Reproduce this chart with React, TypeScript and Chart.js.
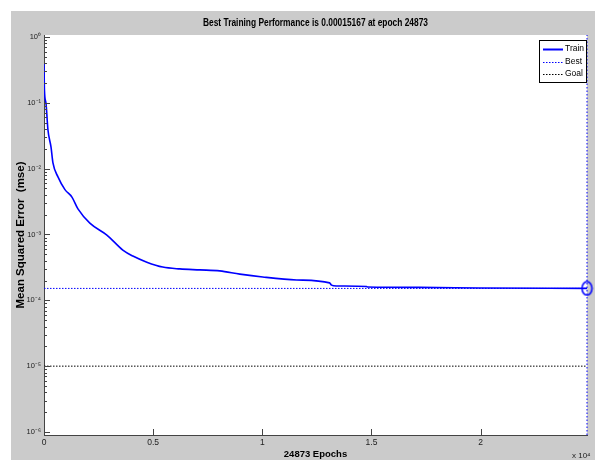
import React, { useEffect, useRef } from "react";
import { Chart, registerables } from "chart.js";
Chart.register(...registerables);

const epochs = [0, 20, 90, 180, 320, 410, 640, 960, 1280, 1555, 2100, 2880, 3610, 4070, 4710, 5440, 6220, 7140, 8050, 8970, 10020, 11570, 13080, 13170, 13400, 14780, 14820, 17200, 19950, 24873];
const trainMse = [0.4, 0.157, 0.099, 0.039, 0.0214, 0.0122, 0.0075, 0.0048, 0.0037, 0.00245, 0.00149, 0.00098, 5.8e-4, 4.7e-4, 3.8e-4, 3.2e-4, 3.0e-4, 2.9e-4, 2.8e-4, 2.5e-4, 2.26e-4, 2.04e-4, 1.84e-4, 1.7e-4, 1.65e-4, 1.62e-4, 1.59e-4, 1.57e-4, 1.54e-4, 1.5167e-4];
const bestEpoch = 24873;
const bestPerf = 1.5167e-4;
const goalPerf = 1e-5;
const xTicks = [0, 5000, 10000, 15000, 20000];
const yDecades = [1e-6, 1e-5, 1e-4, 1e-3, 1e-2, 1e-1, 1];
const yDecadeLabels = ["10⁻⁶", "10⁻⁵", "10⁻⁴", "10⁻³", "10⁻²", "10⁻¹", "10⁰"];
const legendLabels = ["Train", "Best", "Goal"];
const titleText = "Best Training Performance is 0.00015167 at epoch 24873";
const yMin = 9.0e-7;
const yMax = 1.072;

const FONT = '"Liberation Sans", Arial, sans-serif';

function makeEllipse(): HTMLCanvasElement {
  const c = document.createElement("canvas");
  c.width = 13;
  c.height = 16;
  const g = c.getContext("2d")!;
  g.strokeStyle = "#0000ff";
  g.lineWidth = 1.5;
  g.beginPath();
  g.ellipse(6.5, 8, 5, 6.8, 0, 0, Math.PI * 2);
  g.stroke();
  return c;
}

const bgPlugin = {
  id: "bgPanel",
  beforeDraw(chart: any) {
    const { ctx, chartArea: a } = chart;
    ctx.save();
    ctx.fillStyle = "#cbcbcb";
    ctx.fillRect(11, 11, chart.width - 11, chart.height - 11);
    ctx.fillStyle = "#ffffff";
    ctx.fillRect(a.left, a.top, a.right - a.left, a.bottom - a.top);
    ctx.restore();
  },
};

const decorPlugin = {
  id: "decor",
  afterDraw(chart: any) {
    const { ctx, chartArea: a, scales } = chart;
    const ys = scales.y;
    const xs = scales.x;
    ctx.save();
    ctx.strokeStyle = "#444";
    ctx.lineWidth = 1;
    ctx.setLineDash([]);
    ctx.beginPath();
    for (let e = -6; e <= 0; e++) {
      for (let m = 1; m <= 9; m++) {
        const v = m * Math.pow(10, e);
        if (v > 1.0001) continue;
        const py = Math.round(ys.getPixelForValue(v)) + 0.5;
        const len = m === 1 ? 6 : 3;
        ctx.moveTo(a.left, py);
        ctx.lineTo(a.left + len, py);
      }
    }
    xTicks.forEach((v) => {
      const px = Math.round(xs.getPixelForValue(v)) + 0.5;
      ctx.moveTo(px, a.bottom);
      ctx.lineTo(px, a.bottom - 6);
    });
    ctx.stroke();

    // title (condensed, centred over the axes)
    ctx.save();
    ctx.font = `bold 10.5px ${FONT}`;
    const tw = ctx.measureText(titleText).width;
    ctx.translate((a.left + a.right) / 2, 23);
    ctx.scale(225 / tw, 1);
    ctx.fillStyle = "#000";
    ctx.textAlign = "center";
    ctx.textBaseline = "middle";
    ctx.fillText(titleText, 0, 0);
    ctx.restore();

    // exponent label
    ctx.fillStyle = "#222";
    ctx.font = `8px ${FONT}`;
    ctx.textAlign = "left";
    ctx.textBaseline = "middle";
    ctx.fillText("x 10⁴", 572, 456);

    // legend
    const bx = 539, by = 40, bw = 47, bh = 42;
    ctx.fillStyle = "#ffffff";
    ctx.fillRect(bx, by, bw, bh);
    ctx.strokeStyle = "#000";
    ctx.lineWidth = 1;
    ctx.strokeRect(bx + 0.5, by + 0.5, bw, bh);
    const styles = [
      { color: "#0000ff", dash: [] as number[], width: 2 },
      { color: "#0000ff", dash: [1.5, 1.5], width: 1 },
      { color: "#000000", dash: [1.5, 1.5], width: 1 },
    ];
    legendLabels.forEach((lab, i) => {
      const ly = by + 9 + i * 12.5;
      const s = styles[i];
      ctx.beginPath();
      ctx.strokeStyle = s.color;
      ctx.lineWidth = s.width;
      ctx.setLineDash(s.dash);
      ctx.moveTo(bx + 4, Math.round(ly) + 0.5);
      ctx.lineTo(bx + 24, Math.round(ly) + 0.5);
      ctx.stroke();
      ctx.setLineDash([]);
      ctx.fillStyle = "#000";
      ctx.font = `8.5px ${FONT}`;
      ctx.textAlign = "left";
      ctx.textBaseline = "middle";
      ctx.fillText(lab, bx + 26, ly);
    });
    ctx.restore();
  },
};

export default function App() {
  const ref = useRef<HTMLCanvasElement | null>(null);
  useEffect(() => {
    if (!ref.current) return;
    const trainData = epochs.map((e, i) => ({ x: e, y: trainMse[i] }));
    const chart = new Chart(ref.current, {
      type: "line",
      data: {
        datasets: [
          {
            label: "Train",
            data: trainData,
            borderColor: "#0000ff",
            borderWidth: 1.6,
            pointRadius: 0,
            cubicInterpolationMode: "monotone",
          },
          {
            label: "Best",
            data: [
              { x: 0, y: bestPerf },
              { x: bestEpoch, y: bestPerf },
            ],
            borderColor: "#0000ff",
            borderWidth: 1,
            borderDash: [1.5, 1.5],
            pointRadius: 0,
          },
          {
            label: "BestV",
            data: [
              { x: bestEpoch, y: yMin },
              { x: bestEpoch, y: yMax },
            ],
            borderColor: "#0000ff",
            borderWidth: 1,
            borderDash: [1.5, 2],
            pointRadius: 0,
            clip: false as any,
          },
          {
            label: "Goal",
            data: [
              { x: 0, y: goalPerf },
              { x: bestEpoch, y: goalPerf },
            ],
            borderColor: "#000000",
            borderWidth: 1,
            borderDash: [1.5, 1.5],
            pointRadius: 0,
          },
          {
            label: "BestPoint",
            data: [{ x: bestEpoch, y: bestPerf }],
            borderColor: "#0000ff",
            backgroundColor: "rgba(0,0,0,0)",
            pointStyle: makeEllipse(),
            pointRadius: 6,
            showLine: false,
            clip: false as any,
          },
        ],
      },
      options: {
        animation: false,
        responsive: false,
        events: [],
        layout: { padding: { left: 11, top: 35, right: 8, bottom: 0 } },
        plugins: {
          legend: { display: false },
          tooltip: { enabled: false },
          title: { display: false },
        },
        scales: {
          x: {
            type: "linear",
            min: 0,
            max: bestEpoch,
            grid: { display: false, drawTicks: false },
            border: { display: true, color: "#444", width: 1 },
            afterBuildTicks: (s: any) => {
              s.ticks = xTicks.map((v) => ({ value: v }));
            },
            afterFit: (s: any) => {
              s.height = 25;
            },
            ticks: {
              autoSkip: false,
              maxRotation: 0,
              padding: 3,
              color: "#222",
              font: { family: FONT, size: 8.5 },
              callback: (v: any) => String(Number(v) / 1e4),
            },
            title: {
              display: true,
              text: "24873 Epochs",
              color: "#000",
              font: { family: FONT, size: 9.5, weight: "bold", lineHeight: 1.2 },
              padding: { top: 0, bottom: 0 },
            },
          },
          y: {
            type: "logarithmic",
            min: yMin,
            max: yMax,
            grid: { display: false, drawTicks: false },
            border: { display: true, color: "#444", width: 1 },
            afterBuildTicks: (s: any) => {
              s.ticks = yDecades.map((v) => ({ value: v }));
            },
            afterFit: (s: any) => {
              s.width = 33;
            },
            ticks: {
              autoSkip: false,
              padding: 3,
              color: "#222",
              font: { family: FONT, size: 7.5 },
              callback: (v: any) => {
                const idx = yDecades.findIndex((d) => Math.abs(d - Number(v)) / d < 1e-6);
                return idx >= 0 ? yDecadeLabels[idx] : "";
              },
            },
            title: {
              display: true,
              text: "Mean Squared Error  (mse)",
              color: "#000",
              font: { family: FONT, size: 11.5, weight: "bold", lineHeight: 1.2 },
              padding: { top: 3, bottom: 0 },
            },
          },
        },
      },
      plugins: [bgPlugin, decorPlugin],
    } as any);
    return () => chart.destroy();
  }, []);
  return (
    <div style={{ position: "fixed", left: 0, top: 0, width: 595, height: 460 }}>
      <canvas ref={ref} width={595} height={460} style={{ width: 595, height: 460, display: "block" }} />
    </div>
  );
}
